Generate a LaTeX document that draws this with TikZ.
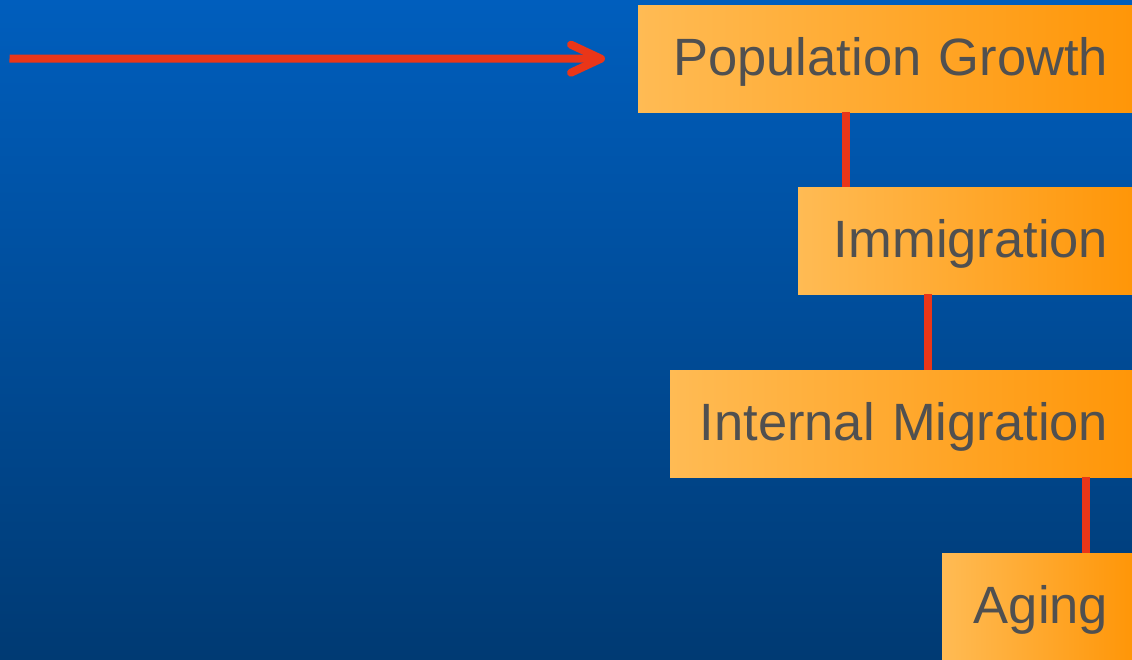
\documentclass[tikz,border=0pt]{standalone}
\usepackage{fontspec}
\setmainfont{Liberation Sans}
\usetikzlibrary{arrows.meta}
\definecolor{bgtop}{RGB}{0,94,189}
\definecolor{bgbot}{RGB}{0,58,115}
\definecolor{boxL}{RGB}{255,187,84}
\definecolor{boxM}{RGB}{255,174,62}
\definecolor{boxR}{RGB}{255,150,8}
\definecolor{linkred}{RGB}{234,54,24}
\definecolor{txt}{RGB}{80,80,80}
\tikzset{
  box/.style={anchor=north west, left color=boxL, middle color=boxM, right color=boxR,
    shading angle=90, inner xsep=24pt, inner ysep=0pt, minimum height=107pt,
    align=right, text=txt, font=\fontsize{52.5}{52.5}\selectfont, text height=41pt, text depth=8pt},
  conn/.style={draw=linkred, line width=8pt},
}
\begin{document}
\begin{tikzpicture}[x=1pt,y=-1pt]
\useasboundingbox (0,0) rectangle (1132,659);
\shade[top color=bgtop, bottom color=bgbot] (0,0) rectangle (1132,659);
\node[box, text width=446pt] (pg) at (638,5) {Population Growth};
\node[box, text width=286pt] (im) at (798,187) {Immigration};
\node[box, text width=414pt] (in) at (670,370) {Internal Migration};
\node[box, text width=142pt] (ag) at (942,553) {Aging};
\coordinate (start) at (9.5,58.5);
\coordinate (c1) at (845.5,0);
\coordinate (c2) at (928,0);
\coordinate (c3) at (1085.5,0);
\draw[conn, shorten >=33pt, -{Straight Barb[length=30pt,width=28pt,round]}] (start) -- (pg.west);
\draw[conn] (pg.south -| c1) -- (im.north -| c1);
\draw[conn] (im.south -| c2) -- (in.north -| c2);
\draw[conn] (in.south -| c3) -- (ag.north -| c3);
\end{tikzpicture}
\end{document}
